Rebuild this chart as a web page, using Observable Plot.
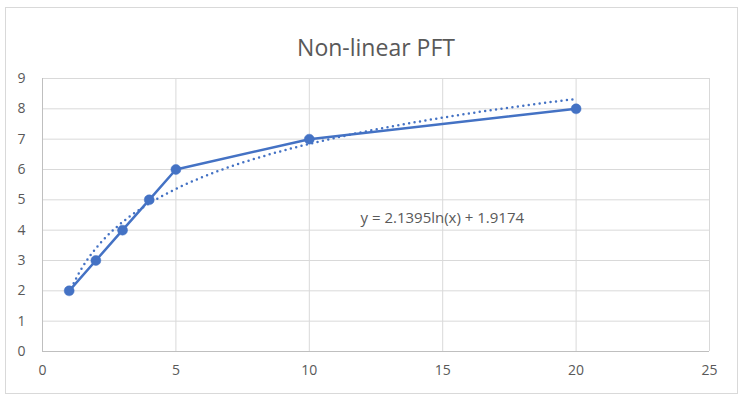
<!DOCTYPE html>
<html><head><meta charset="utf-8">
<script src="https://cdn.jsdelivr.net/npm/d3@7"></script>
<script src="https://cdn.jsdelivr.net/npm/@observablehq/plot@0.6"></script>
<style>
html,body{margin:0;padding:0;background:#fff;}
#wrap{position:relative;width:747px;height:404px;overflow:hidden;}
#border{position:absolute;left:5px;top:7px;width:733px;height:387px;border:1px solid #d9d9d9;box-sizing:border-box;pointer-events:none;}
svg{position:absolute;left:0;top:0;}
</style></head>
<body><div id="wrap"><div id="border"></div></div>
<script>
const xs = [1, 2, 3, 4, 5, 10, 20];
const ys = [2, 3, 4, 5, 6, 7, 8];
const trendA = 2.1395, trendB = 1.9174;
const title = "Non-linear PFT";
const eqLabel = "y = 2.1395ln(x) + 1.9174";
const xTicks = [0, 5, 10, 15, 20, 25];
const yTicks = [0, 1, 2, 3, 4, 5, 6, 7, 8, 9];

const pts = xs.map((x, i) => ({x, y: ys[i]}));
const trend = d3.range(1, 20.001, 0.1).map(x => ({x, y: trendA * Math.log(x) + trendB}));
const blue = "#4472C4";
const font = "'Open Sans', sans-serif";

const chart = Plot.plot({
  width: 747, height: 404,
  marginLeft: 42, marginRight: 38, marginTop: 78, marginBottom: 53,
  style: {fontFamily: font, fontSize: "14px", color: "#595959", background: "transparent"},
  x: {domain: [0, 25], ticks: xTicks, tickSize: 0, tickPadding: 12, label: null},
  y: {domain: [0, 9], ticks: yTicks, tickSize: 0, tickPadding: 12, label: null},
  marks: [
    Plot.gridX(xTicks.filter(d => d > 0), {stroke: "#d9d9d9", strokeOpacity: 1, strokeWidth: 1}),
    Plot.gridY(yTicks.filter(d => d > 0), {stroke: "#d9d9d9", strokeOpacity: 1, strokeWidth: 1}),
    Plot.ruleX([0], {stroke: "#bfbfbf", strokeWidth: 1}),
    Plot.ruleY([0], {stroke: "#bfbfbf", strokeWidth: 1}),
    Plot.axisX(xTicks, {tickSize: 0, tickPadding: 14, fill: "#595959", fontSize: 14, label: null}),
    Plot.axisY(yTicks, {tickSize: 0, tickPadding: 17, fill: "#595959", fontSize: 14, label: null}),
    Plot.line(trend, {x: "x", y: "y", stroke: blue, strokeWidth: 2.5, strokeDasharray: "0 5.5", strokeLinecap: "round", curve: "linear"}),
    Plot.line(pts, {x: "x", y: "y", stroke: blue, strokeWidth: 2.5}),
    Plot.dot(pts, {x: "x", y: "y", r: 5, fill: blue, stroke: blue, strokeWidth: 0.5}),
    Plot.text([eqLabel], {frameAnchor: "top-left", dx: 318, dy: 134, text: d => d, textAnchor: "start", fill: "#595959", fontSize: 15}),
    Plot.text([title], {frameAnchor: "top", dx: 0, dy: -39, text: d => d, fill: "#595959", fontSize: 23})
  ]
});
document.getElementById("wrap").appendChild(chart);
</script></body></html>
